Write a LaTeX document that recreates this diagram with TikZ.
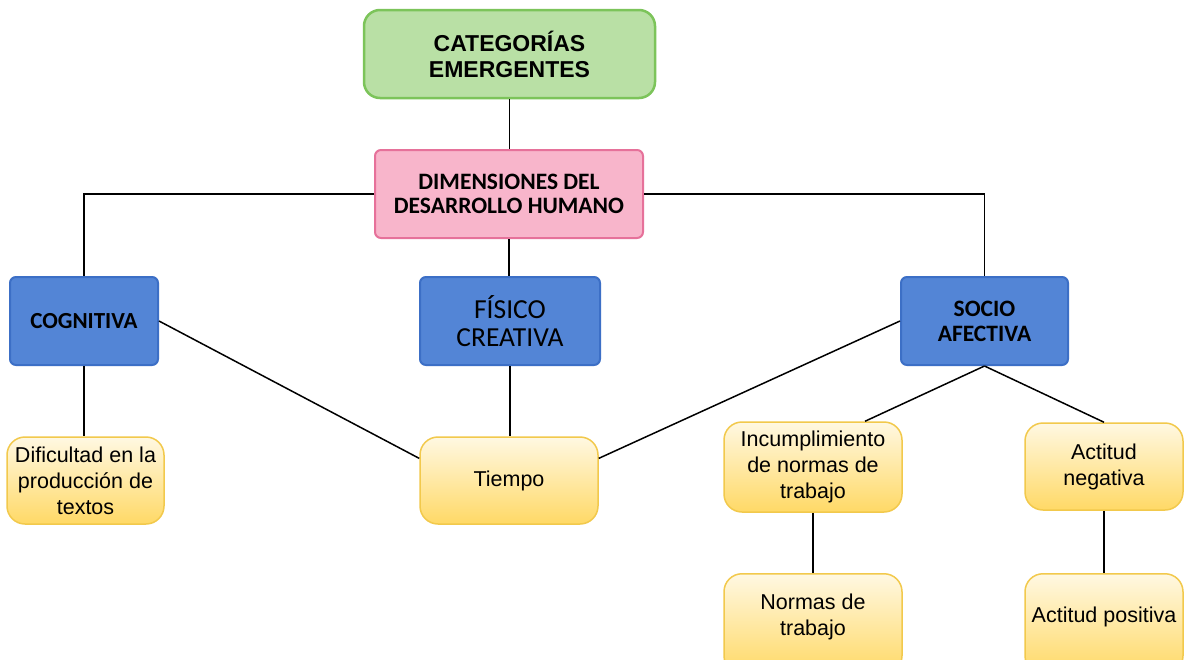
\documentclass[tikz,border=0pt]{standalone}
\usepackage{fontspec}
\setmainfont{Liberation Sans}
\newfontfamily\calib{Carlito}
\usetikzlibrary{calc}
\definecolor{gfill}{HTML}{B9E0A5}
\definecolor{gline}{HTML}{7CC45A}
\definecolor{pfill}{HTML}{F8B5CB}
\definecolor{pline}{HTML}{E6719A}
\definecolor{bfill}{HTML}{5385D6}
\definecolor{bline}{HTML}{3C6FC6}
\definecolor{ytop}{HTML}{FFF8E2}
\definecolor{ybot}{HTML}{FFD966}
\definecolor{yline}{HTML}{F2C94C}
\newcommand{\ytxt}{\fontsize{21.5}{26}\selectfont}
\begin{document}
\begin{tikzpicture}[x=1pt,y=-1pt,
  base/.style={align=center,inner sep=0pt,text=black},
  greenbox/.style={base,fill=gfill,draw=gline,line width=2.5pt,rounded corners=16pt,
    font=\fontsize{23}{26}\selectfont\bfseries},
  pinkbox/.style={base,fill=pfill,draw=pline,line width=2pt,rounded corners=6pt,
    font=\calib\fontsize{23.5}{24}\selectfont\bfseries},
  bluebox/.style={base,fill=bfill,draw=bline,line width=2pt,rounded corners=6pt},
  yellowbox/.style={base,top color=ytop,bottom color=ybot,draw=yline,line width=1.5pt,
    rounded corners=18pt,font=\ytxt},
  link/.style={draw=black,line width=1.5pt}]
\useasboundingbox (0,0) rectangle (1184,659);
\clip (0,0) rectangle (1184,659);
\fill[white] (0,0) rectangle (1184,659);

\node[greenbox,minimum width=291pt,minimum height=88pt] (cat) at (509.5,54) {CATEGORÍAS\\EMERGENTES};
\node[pinkbox,minimum width=268pt,minimum height=88pt] (dim) at (509,194) {DIMENSIONES DEL\\DESARROLLO HUMANO};
\node[bluebox,minimum width=148pt,minimum height=88pt,font=\calib\fontsize{23}{24}\selectfont\bfseries] (cog) at (84,321) {COGNITIVA};
\node[bluebox,minimum width=180pt,minimum height=88pt,font=\calib\fontsize{27.5}{28}\selectfont] (fis) at (510,321) {FÍSICO\\CREATIVA};
\node[bluebox,minimum width=167pt,minimum height=88pt,font=\calib\fontsize{23.5}{25}\selectfont\bfseries] (soc) at (984.5,321) {SOCIO\\AFECTIVA};

\node[yellowbox,minimum width=157pt,minimum height=87pt] (dif) at (85.5,480.5) {Dificultad en la\\producción de\\textos};
\node[yellowbox,minimum width=178pt,minimum height=87pt] (tie) at (509,480.5) {Tiempo};
\node[yellowbox,minimum width=178pt,minimum height=90pt] (inc) at (813,467) {Incumplimiento\\de normas de\\trabajo};
\node[yellowbox,minimum width=158pt,minimum height=87pt] (neg) at (1104,466.5) {Actitud\\negativa};
\node[yellowbox,minimum width=178pt,minimum height=100pt,anchor=north,
  label={[font=\ytxt,align=center,yshift=7pt]center:Normas de\\trabajo}] (nor) at (813,573) {};
\node[yellowbox,minimum width=158pt,minimum height=100pt,anchor=north,
  label={[font=\ytxt,align=center,yshift=7pt]center:Actitud positiva}] (pos) at (1104,573) {};

\path[link] (cat.south) -- (cat.south |- dim.north);
\path[link] (dim.west) -| (cog.north);
\path[link] (dim.east) -| (soc.north);
\path[link] (dim.south) -- (dim.south |- fis.north);
\path[link] (cog.south) -- (cog.south |- dif.north);
\path[link] (fis.south) -- (fis.south |- tie.north);
\path[link] (cog.east) -- ($(tie.north west)!0.25!(tie.south west)$);
\path[link] ($(tie.north east)!0.25!(tie.south east)$) -- (soc.west);
\path[link] (soc.south) -- ($(inc.north west)!0.79!(inc.north east)$);
\path[link] (soc.south) -- (neg.north);
\path[link] (inc.south) -- (inc.south |- nor.north);
\path[link] (neg.south) -- (neg.south |- pos.north);
\end{tikzpicture}
\end{document}
